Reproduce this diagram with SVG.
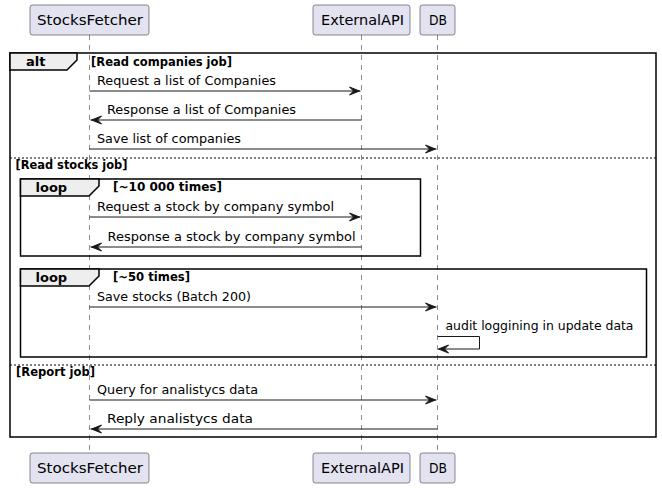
<svg xmlns="http://www.w3.org/2000/svg" width="662" height="488" viewBox="0 0 662 488">
<style>
.part rect{fill:#E2E2F0;stroke:#181818;stroke-width:0.5}
.part text{font-family:"DejaVu Sans",sans-serif;font-size:14px;fill:#000}
.life{stroke:#181818;stroke-width:0.5;stroke-dasharray:5,5;fill:none}
.frame{fill:none;stroke:#000;stroke-width:1.5}
.tab{fill:#EEEEEE;stroke:#000;stroke-width:1.5}
.sep{stroke:#000;stroke-width:1;stroke-dasharray:2,2}
.fl{font-family:"DejaVu Sans",sans-serif;font-size:13px;font-weight:bold;fill:#000}
.cond{font-family:"DejaVu Sans",sans-serif;font-size:11.5px;font-weight:bold;fill:#000}
.msg line,.msg polyline{stroke:#181818;stroke-width:1;fill:none}
.msg polygon{fill:#181818;stroke:#181818;stroke-width:1}
.mt{font-family:"DejaVu Sans",sans-serif;font-size:13px;fill:#000}
</style>
<g id="lifelines">
<line class="life" x1="89.5" y1="35" x2="89.5" y2="453"/>
<line class="life" x1="361.5" y1="35" x2="361.5" y2="453"/>
<line class="life" x1="437.5" y1="35" x2="437.5" y2="453"/>
</g>
<g id="StocksFetcher" class="part">
<rect x="30" y="5" width="119" height="30" rx="2.5"/>
<text x="37" y="25" textLength="106" lengthAdjust="spacingAndGlyphs">StocksFetcher</text>
<rect x="30" y="453" width="119" height="30" rx="2.5"/>
<text x="37" y="473" textLength="106" lengthAdjust="spacingAndGlyphs">StocksFetcher</text>
</g>
<g id="ExternalAPI" class="part">
<rect x="313" y="5" width="97" height="30" rx="2.5"/>
<text x="321" y="25" textLength="83" lengthAdjust="spacingAndGlyphs">ExternalAPI</text>
<rect x="313" y="453" width="97" height="30" rx="2.5"/>
<text x="321" y="473" textLength="83" lengthAdjust="spacingAndGlyphs">ExternalAPI</text>
</g>
<g id="DB" class="part">
<rect x="420" y="5" width="35" height="30" rx="2.5"/>
<text x="429" y="25" textLength="18" lengthAdjust="spacingAndGlyphs">DB</text>
<rect x="420" y="453" width="35" height="30" rx="2.5"/>
<text x="429" y="473" textLength="18" lengthAdjust="spacingAndGlyphs">DB</text>
</g>
<g id="alt">
<rect class="frame" x="10" y="53" width="646" height="384"/>
<polygon class="tab" points="10,53 77,53 77,60 67,70 10,70"/>
<text class="fl" x="26" y="66">alt</text>
<text class="cond" x="91" y="66" textLength="141" lengthAdjust="spacingAndGlyphs">[Read companies job]</text>
<line class="sep" x1="10" y1="158" x2="656" y2="158"/>
<text class="cond" x="15.5" y="169" textLength="112" lengthAdjust="spacingAndGlyphs">[Read stocks job]</text>
<line class="sep" x1="10" y1="365" x2="656" y2="365"/>
<text class="cond" x="16" y="376" textLength="79" lengthAdjust="spacingAndGlyphs">[Report job]</text>
</g>
<g id="loop1">
<rect class="frame" x="20.5" y="179" width="400" height="77"/>
<polygon class="tab" points="20.5,179 99,179 99,186 89,196 20.5,196"/>
<text class="fl" x="35.5" y="192">loop</text>
<text class="cond" x="113" y="191" textLength="109" lengthAdjust="spacingAndGlyphs">[~10 000 times]</text>
</g>
<g id="loop2">
<rect class="frame" x="20.5" y="269" width="626" height="88"/>
<polygon class="tab" points="20.5,269 99,269 99,276 89,286 20.5,286"/>
<text class="fl" x="35.5" y="282">loop</text>
<text class="cond" x="113" y="281" textLength="77" lengthAdjust="spacingAndGlyphs">[~50 times]</text>
</g>
<g id="connectors" class="msg">
<line x1="89.5" y1="91" x2="360.5" y2="91"/>
<polygon points="349.5,87 359.5,91 349.5,95 353.5,91"/>
<text class="mt" x="97" y="85" textLength="179" lengthAdjust="spacingAndGlyphs">Request a list of Companies</text>
<line x1="90.5" y1="120" x2="361.5" y2="120"/>
<polygon points="101.5,116 91.5,120 101.5,124 97.5,120"/>
<text class="mt" x="107" y="114" textLength="189" lengthAdjust="spacingAndGlyphs">Response a list of Companies</text>
<line x1="89.5" y1="149" x2="436.5" y2="149"/>
<polygon points="425.5,145 435.5,149 425.5,153 429.5,149"/>
<text class="mt" x="97" y="143" textLength="144" lengthAdjust="spacingAndGlyphs">Save list of companies</text>
<line x1="89.5" y1="217" x2="360.5" y2="217"/>
<polygon points="349.5,213 359.5,217 349.5,221 353.5,217"/>
<text class="mt" x="97" y="211" textLength="237" lengthAdjust="spacingAndGlyphs">Request a stock by company symbol</text>
<line x1="90.5" y1="247" x2="361.5" y2="247"/>
<polygon points="101.5,243 91.5,247 101.5,251 97.5,247"/>
<text class="mt" x="107.5" y="241" textLength="248" lengthAdjust="spacingAndGlyphs">Response a stock by company symbol</text>
<line x1="89.5" y1="307" x2="436.5" y2="307"/>
<polygon points="425.5,303 435.5,307 425.5,311 429.5,307"/>
<text class="mt" x="97" y="301" textLength="154" lengthAdjust="spacingAndGlyphs">Save stocks (Batch 200)</text>
<polyline points="437.5,336.5 479.5,336.5 479.5,349 438.5,349"/>
<polygon points="448.5,345 438.5,349 448.5,353 444.5,349"/>
<text class="mt" x="445.5" y="330" textLength="188" lengthAdjust="spacingAndGlyphs">audit loggining in update data</text>
<line x1="89.5" y1="400" x2="436.5" y2="400"/>
<polygon points="425.5,396 435.5,400 425.5,404 429.5,400"/>
<text class="mt" x="97" y="394" textLength="161" lengthAdjust="spacingAndGlyphs">Query for analistycs data</text>
<line x1="90.5" y1="429" x2="437.5" y2="429"/>
<polygon points="101.5,425 91.5,429 101.5,433 97.5,429"/>
<text class="mt" x="107" y="423" textLength="146" lengthAdjust="spacingAndGlyphs">Reply analistycs data</text>
</g>
</svg>
